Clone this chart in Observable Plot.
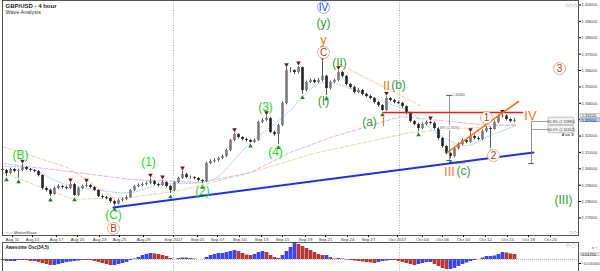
<!DOCTYPE html>
<html><head><meta charset="utf-8">
<script src="https://cdn.jsdelivr.net/npm/d3@7"></script>
<script src="https://cdn.jsdelivr.net/npm/@observablehq/plot@0.6"></script>
<style>
html,body{margin:0;padding:0;background:#fff;}
#wrap{position:relative;width:600px;height:271px;overflow:hidden;background:#fff;}
#main{position:absolute;left:0;top:0;}
#osc{position:absolute;left:0;top:242px;}
svg{display:block;}
</style></head><body><div id="wrap"><div id="main"></div><div id="osc"></div></div>
<script>
// ---------- DATA ----------
const firstOpen = 1.2996;
const closes = [
1.2990,1.2971,1.2996,1.2984,1.2990,1.3008,1.2996,1.2990,1.2984,1.2959,
1.2880,1.2868,1.2843,1.2880,1.2892,1.2886,1.2880,1.2904,1.2837,1.2880,
1.2892,1.2898,1.2886,1.2868,1.2831,1.2825,1.2819,1.2800,1.2785,1.2807,
1.2813,1.2825,1.2868,1.2892,1.2898,1.2904,1.2910,1.2922,1.2904,1.2898,
1.2916,1.2892,1.2868,1.2916,1.2941,1.2965,1.2947,1.2947,1.2941,1.2929,
1.2922,1.3032,1.3045,1.3051,1.3063,1.3075,1.3112,1.3173,1.3209,1.3191,
1.3179,1.3173,1.3161,1.3173,1.3283,1.3295,1.3307,1.3222,1.3209,1.3264,
1.3399,1.3600,1.3600,1.3588,1.3618,1.3478,1.3527,1.3539,1.3527,1.3539,
1.3565,1.3490,1.3527,1.3539,1.3588,1.3564,1.3515,1.3496,1.3466,1.3478,
1.3454,1.3441,1.3429,1.3405,1.3386,1.3356,1.3429,1.3417,1.3405,1.3399,
1.3380,1.3338,1.3289,1.3270,1.3246,1.3270,1.3283,1.3277,1.3246,1.3185,
1.3136,1.3093,1.3075,1.3124,1.3148,1.3173,1.3161,1.3197,1.3185,1.3179,
1.3228,1.3246,1.3240,1.3283,1.3319,1.3322,1.3301,1.3289,1.3295];
const highs = [
1.3014,1.2996,1.3004,1.3002,1.2998,1.3026,1.3015,1.3002,1.2996,1.2990,
1.2965,1.2890,1.2875,1.2890,1.2902,1.2900,1.2895,1.2912,1.2910,1.2888,
1.2900,1.2910,1.2905,1.2892,1.2872,1.2840,1.2832,1.2825,1.2808,1.2815,
1.2822,1.2835,1.2875,1.2900,1.2908,1.2914,1.2920,1.2941,1.2930,1.2912,
1.2929,1.2920,1.2898,1.2922,1.2950,1.2984,1.2972,1.2956,1.2952,1.2946,
1.2935,1.3040,1.3055,1.3062,1.3072,1.3085,1.3120,1.3180,1.3218,1.3215,
1.3198,1.3188,1.3180,1.3182,1.3290,1.3305,1.3322,1.3312,1.3230,1.3272,
1.3410,1.3615,1.3618,1.3605,1.3625,1.3622,1.3535,1.3550,1.3548,1.3552,
1.3655,1.3572,1.3535,1.3548,1.3598,1.3595,1.3570,1.3522,1.3505,1.3490,
1.3485,1.3462,1.3450,1.3435,1.3412,1.3392,1.3440,1.3435,1.3425,1.3412,
1.3405,1.3385,1.3345,1.3296,1.3278,1.3280,1.3292,1.3290,1.3285,1.3252,
1.3192,1.3142,1.3098,1.3132,1.3158,1.3182,1.3185,1.3218,1.3205,1.3195,
1.3238,1.3258,1.3255,1.3292,1.3330,1.3330,1.3330,1.3310,1.3305];
const lows = [
1.2965,1.2953,1.2965,1.2975,1.2941,1.2982,1.2988,1.2980,1.2975,1.2950,
1.2870,1.2858,1.2830,1.2838,1.2872,1.2875,1.2870,1.2875,1.2832,1.2830,
1.2872,1.2885,1.2878,1.2860,1.2825,1.2815,1.2810,1.2790,1.2772,1.2780,
1.2798,1.2805,1.2820,1.2860,1.2885,1.2890,1.2896,1.2902,1.2896,1.2888,
1.2892,1.2884,1.2849,1.2860,1.2910,1.2935,1.2940,1.2938,1.2932,1.2920,
1.2908,1.2915,1.3025,1.3035,1.3042,1.3055,1.3068,1.3105,1.3165,1.3182,
1.3170,1.3162,1.3160,1.3155,1.3168,1.3275,1.3288,1.3215,1.3198,1.3150,
1.3258,1.3390,1.3585,1.3575,1.3580,1.3455,1.3470,1.3520,1.3518,1.3520,
1.3530,1.3448,1.3482,1.3520,1.3532,1.3555,1.3505,1.3488,1.3458,1.3458,
1.3445,1.3432,1.3420,1.3395,1.3375,1.3350,1.3350,1.3408,1.3396,1.3390,
1.3370,1.3328,1.3280,1.3262,1.3228,1.3238,1.3262,1.3268,1.3238,1.3175,
1.3125,1.3085,1.3060,1.3068,1.3115,1.3140,1.3152,1.3155,1.3175,1.3170,
1.3172,1.3220,1.3125,1.3235,1.3275,1.3310,1.3292,1.3280,1.3282];
const aoValues = [
-0.0025,-0.005,-0.005,-0.005,-0.0025,-0.0025,-0.0025,-0.005,-0.005,-0.0075,
-0.010,-0.0125,-0.015,-0.015,-0.0125,-0.010,-0.0075,-0.00625,-0.005,-0.00375,
-0.0025,-0.0025,-0.0025,-0.005,-0.0075,-0.010,-0.0125,-0.015,-0.015,-0.0125,
-0.010,-0.0075,-0.0025,0.00125,0.005,0.010,0.0125,0.015,0.01375,0.0125,
0.010,0.0075,0.0025,0.0,0.0025,0.00375,0.00375,0.0025,0.00125,0.0,
0.0,0.005,0.010,0.0125,0.015,0.015,0.0175,0.020,0.0225,0.020,
0.015,0.01125,0.010,0.0125,0.0175,0.020,0.0175,0.010,0.005,0.0025,
0.010,0.020,0.030,0.040,0.0375,0.0325,0.0275,0.0225,0.0175,0.0125,
0.010,0.010,0.005,0.00125,0.0025,0.00125,-0.00125,-0.0025,-0.00375,-0.005,
-0.00625,-0.0075,-0.00875,-0.010,-0.0075,-0.005,-0.00375,-0.0025,-0.0025,-0.005,
-0.0075,-0.010,-0.0125,-0.015,-0.0125,-0.010,-0.0075,-0.0075,-0.0125,-0.0175,
-0.0225,-0.025,-0.025,-0.0225,-0.0175,-0.0125,-0.00875,-0.005,-0.0025,0.0,
0.00375,0.0075,0.0075,0.00875,0.0125,0.0175,0.01625,0.01375,0.0125];

const peakBars = [5,17,21,37,40,45,58,66,71,74,80,84,96,107,117,125];
const troughBars = [1,4,12,18,28,42,50,62,69,75,81,95,104,112,122];

const dateTickIdx = [2.5,7.5,13.5,18.75,24.25,29.25,35.25,42.75,48.75,53.75,59.25,64.75,70,75.75,80.75,86.25,91.5,98.75,105,110,115.25,120.75,126.25,131.5,137];
const dateTickLabels = ["Aug 11","Aug 15","Aug 17","Aug 20","Aug 23","Aug 25","Aug 29","Sep 2017","Sep 05","Sep 07","Sep 10","Sep 13","Sep 15","Sep 19","Sep 21","Sep 24","Sep 27","Oct 2017","Oct 04","Oct 06","Oct 10","Oct 12","Oct 15","Oct 18","Oct 20"];
const priceTicks = [1.27,1.28,1.29,1.30,1.31,1.32,1.33,1.34,1.35,1.36,1.37,1.38,1.39,1.40];
const separatorIdx = [42.75, 99.25];

// moving averages / helper lines (index, price)
const fastMaX = [0,7,14.5,24.5,32,39.5,49.5,53.25,61.25,72,75.75,80.25,87,94.5,102,109.5,115.75,122,128.25];
const fastMaY = [1.3014,1.3002,1.2916,1.2868,1.2855,1.2904,1.2916,1.2941,1.3142,1.3356,1.3460,1.3527,1.3490,1.3417,1.3344,1.3203,1.3142,1.3203,1.3264];
const midMaX = [0,14.5,32,49.5,62,72,82,92,99.5,109.5,119.5,128.25];
const midMaY = [1.3032,1.2990,1.2935,1.2916,1.2977,1.3100,1.3191,1.3264,1.3319,1.3295,1.3270,1.3264];
const slowMaX = [0,17.75,32,44.5,61.25,77.75,102,114.5,128.25];
const slowMaY = [1.2977,1.2813,1.2825,1.2868,1.2971,1.3093,1.3222,1.3246,1.3270];
const resistA_X = [0,16.25,27.75];
const resistA_Y = [1.3136,1.3008,1.2825];
const resistB_X = [83.75,104.5];
const resistB_Y = [1.3643,1.3386];

// drawn lines
const blueLineX = [27.75,132.75], blueLineY = [1.2764,1.3100];
const redLineX = [95.25,130], redLineY = [1.3344,1.3344];
const orangeLineX = [111.25,129], orangeLineY = [1.3100,1.3411];
const orangeTick = {x:95.25, y1:1.3314, y2:1.3258};

// measurement tools
const measureX = [111.75,132.25];
const measureTop = [1.3448,1.3289];
const measureBottom = [1.3051,1.3032];
const measureTexts = ["1.34480","397 (2.95%)","1.30510"];
const fibLevels = [1.3289,1.3240];
const fibLabels = ["61.8% (1.32890)","50.0% (1.32402)"];

// wave labels
const waveText = ["(B)","(C)","B","(1)","(2)","(3)","(4)","IV","(y)","y","C","(I)","(II)","II","(b)","(a)","III","(c)","1","2","IV","3","(III)"];
const waveX =    [4.5,27.75,27.75,36.5,50,65.75,68.25,80.25,80.25,80.25,80.25,80.25,84.25,96,99,91.75,111.75,115.25,121,122.75,132,139.25,140.25];
const waveY =    [1.3081,1.2715,1.2636,1.3039,1.2863,1.3374,1.3100,1.3985,1.3887,1.3789,1.3710,1.3411,1.3643,1.3509,1.3509,1.3283,1.2984,1.2984,1.3313,1.3081,1.3325,1.3612,1.2807];
const waveKind = ["lime","lime","brown","lime","lime","lime","lime","blue","dk","orange","brown","dk","dk","orange","dk","dk","orange","dk","brown","brown","orange","brown","dk"];

// ---------- BUILD ----------
const font = "'Liberation Sans', Arial, sans-serif";
const bars = closes.map((c,i)=>({i, o: i ? closes[i-1] : firstOpen, c, h: highs[i], l: lows[i]}));
const pts = (xs, ys) => xs.map((x,i)=>({x, y: ys[i]}));
const labelMap = new Map(dateTickIdx.map((d,i)=>[d, dateTickLabels[i]]));
const waves = waveText.map((t,i)=>({t, x: waveX[i], y: waveY[i], k: waveKind[i]}));
const colorOf = {lime:"#2bd42b", dk:"#3c9a3c", orange:"#f27a2c", brown:"#a8441c", blue:"#2a3af0"};
const circled = waves.filter(d=>d.k==="brown"||d.k==="blue");
const lastClose = closes[closes.length-1];

const main = Plot.plot({
  width: 600, height: 242,
  marginLeft: 2, marginRight: 22, marginTop: 0, marginBottom: 7,
  x: {domain: [0,144], axis: null},
  y: {domain: [1.25928, 1.40275], axis: null},
  style: {background:"white", fontFamily: font, overflow:"visible"},
  marks: [
    Plot.ruleX(separatorIdx, {stroke:"#9a9a9a", strokeDasharray:"1,1.5", strokeWidth:0.8}),
    Plot.line(pts(slowMaX, slowMaY), {x:"x", y:"y", stroke:"#ddd6a8", strokeDasharray:"4,2", strokeWidth:0.9}),
    Plot.line(pts(midMaX, midMaY), {x:"x", y:"y", stroke:"#dcaede", strokeDasharray:"4,2", strokeWidth:0.9}),
    Plot.line(pts(fastMaX, fastMaY), {x:"x", y:"y", stroke:"#a8c4ee", strokeDasharray:"1.5,1.5", strokeWidth:0.9, curve:"catmull-rom"}),
    Plot.line(pts(resistA_X, resistA_Y), {x:"x", y:"y", stroke:"#f6c49a", strokeDasharray:"4,2", strokeWidth:0.9}),
    Plot.line(pts(resistB_X, resistB_Y), {x:"x", y:"y", stroke:"#f6c49a", strokeDasharray:"4,2", strokeWidth:0.9}),
    // candles
    Plot.ruleX(bars, {x:"i", y1:"l", y2:"h", stroke:"#444", strokeWidth:0.9}),
    Plot.ruleX(bars, {x:"i", y1:"o", y2:"c", stroke: d => d.c >= d.o ? "#7a7a7a" : "#222", strokeWidth:2.6}),
    // fractal markers
    Plot.dot(peakBars, {x: d=>d, y: d=>highs[d], dy:-3.5, symbol:"triangle", r:1.7, fill:"#7a1414", rotate:180}),
    Plot.dot(troughBars, {x: d=>d, y: d=>lows[d], dy:3.5, symbol:"triangle", r:1.7, fill:"#2b7a2b"}),
    // drawn lines
    Plot.line(pts(blueLineX, blueLineY), {x:"x", y:"y", stroke:"#1f2fe6", strokeWidth:2}),
    Plot.line(pts(redLineX, redLineY), {x:"x", y:"y", stroke:"#ee1a1a", strokeWidth:1.6}),
    Plot.line(pts(orangeLineX, orangeLineY), {x:"x", y:"y", stroke:"#ff7422", strokeWidth:1.6}),
    Plot.ruleX([orangeTick], {x:"x", y1:"y1", y2:"y2", stroke:"#ff7422", strokeWidth:1.2}),
    // measurement tools
    Plot.ruleX(measureX.map((x,i)=>({x, t: measureTop[i], b: measureBottom[i]})), {x:"x", y1:"t", y2:"b", stroke:"#777", strokeWidth:0.8}),
    Plot.ruleY(measureX.map((x,i)=>({x, y: measureBottom[i]})), {x1: d=>d.x-0.7, x2: d=>d.x+0.7, y:"y", stroke:"#555", strokeWidth:1}),
    Plot.ruleY([{x: measureX[0], y: measureTop[0]}], {x1: d=>d.x-0.7, x2: d=>d.x+0.7, y:"y", stroke:"#555", strokeWidth:1}),
    Plot.text([measureTexts[0]], {x: measureX[0]+0.6, y: measureTop[0], text: d=>d, textAnchor:"start", fontSize:3.6, fill:"#555", dy:-1}),
    Plot.text([measureTexts[1]], {x: measureX[0], y: (measureTop[0]+measureBottom[0])/2, text: d=>d, fontSize:3.6, fill:"#555", stroke:"white", strokeWidth:2}),
    Plot.text([measureTexts[2]], {x: measureX[0]+0.6, y: measureBottom[0], text: d=>d, textAnchor:"start", fontSize:3.6, fill:"#555", dy:2}),
    Plot.ruleY(fibLevels, {x1: measureX[1], x2: 136.5, stroke:"#888", strokeWidth:0.8}),
    Plot.rect(fibLevels, {x1:136.5, x2:142.9, y1: d=>d-0.0023, y2: d=>d+0.0023, fill:"#f4f4f4", stroke:"#999", strokeWidth:0.6, rx:1.5}),
    Plot.text(fibLevels, {x:139.7, y: d=>d, text: (d,i)=>fibLabels[i], fontSize:3.7, fill:"#444"}),
    Plot.text(["4 vs 3"], {x:141.3, y:1.3209, text: d=>d, fontSize:4.2, fontWeight:"bold", fill:"#333"}),
    // wave labels
    Plot.dot(circled, {x:"x", y:"y", r:6, stroke: d=> d.k==="blue" ? "#8c96f5" : "#e0a684", fill:"white", strokeWidth:0.9}),
    Plot.text(waves, {x:"x", y:"y", text:"t", fill: d=>colorOf[d.k], fontSize: d=> (d.k==="brown"||d.k==="blue") ? 10 : (d.k==="orange" ? 13 : 12)}),
    // title & logos
    Plot.text(["GBP/USD - 4 hour"], {frameAnchor:"top-left", text:d=>d, dx:3, dy:3, fontSize:6, fontWeight:"bold", fill:"#222", textAnchor:"start", lineAnchor:"top"}),
    Plot.text(["Wave Analysis"], {frameAnchor:"top-left", text:d=>d, dx:3, dy:10, fontSize:5.5, fill:"#333", textAnchor:"start", lineAnchor:"top"}),
    Plot.text(["◦◦-◦◦ MotiveWave"], {frameAnchor:"bottom-left", text:d=>d, dx:3, dy:-2, fontSize:4.2, fill:"#444", textAnchor:"start", lineAnchor:"bottom"}),
    Plot.text(["◇◇◇"], {frameAnchor:"top-right", text:d=>d, dx:-2, dy:3, fontSize:5, fill:"#999", textAnchor:"end", lineAnchor:"top"}),
    Plot.text(["◇◇"], {frameAnchor:"bottom-right", text:d=>d, dx:-2, dy:-2, fontSize:5, fill:"#999", textAnchor:"end", lineAnchor:"bottom"}),
    // frame & axes
    Plot.frame({stroke:"#444", strokeWidth:0.9}),
    Plot.axisY({anchor:"right", ticks: priceTicks, tickFormat: d3.format(".5f"), tickSize:2, tickPadding:1, fontSize:4.3, fill:"#333"}),
    Plot.axisX({anchor:"bottom", ticks: dateTickIdx, tickFormat: d => labelMap.get(d), tickSize:2, tickPadding:0.5, fontSize:4.3, fill:"#333"}),
    // current price boxes on the axis
    Plot.rect([1.3322], {x1:144.5, x2:149.6, y1:d=>d-0.0011, y2:d=>d+0.0011, fill:"#eeeeee", stroke:"#999", strokeWidth:0.5}),
    Plot.text([1.3322], {x:144.8, y:d=>d, text: d3.format(".5f"), textAnchor:"start", fontSize:4, fill:"#333"}),
    Plot.rect([lastClose], {x1:144.5, x2:149.6, y1:d=>d-0.0011, y2:d=>d+0.0011, fill:"#b9cff7", stroke:"#6d8fd6", strokeWidth:0.5}),
    Plot.text([lastClose], {x:144.8, y:d=>d, text: d3.format(".5f"), textAnchor:"start", fontSize:4, fill:"#111"})
  ]
});
document.getElementById("main").appendChild(main);

const aoBars = aoValues.map((v,i)=>({i, v, up: i===0 ? true : v >= aoValues[i-1]}));
const lastAo = aoValues[aoValues.length-1];
const osc = Plot.plot({
  width: 600, height: 29,
  marginLeft: 2, marginRight: 22, marginTop: 0, marginBottom: 0,
  x: {domain:[0,144], axis: null},
  y: {domain:[-0.03, 0.0425], axis: null},
  style: {background:"white", fontFamily: font, overflow:"visible"},
  marks: [
    Plot.ruleX(separatorIdx, {stroke:"#9a9a9a", strokeDasharray:"1,1.5", strokeWidth:0.8}),
    Plot.ruleY([0], {stroke:"#999", strokeDasharray:"1,1", strokeWidth:0.7}),
    Plot.ruleX(aoBars, {x:"i", y1:0, y2:"v", stroke: d=> d.up ? "#3b45f2" : "#b23b36", strokeWidth:3.7}),
    Plot.text(["Awesome Osc(34,5)"], {frameAnchor:"top-left", text:d=>d, dx:3, dy:3, fontSize:4.6, fontWeight:"bold", fill:"#222", textAnchor:"start", lineAnchor:"top"}),
    Plot.text(["◇ ▢"], {frameAnchor:"top-right", text:d=>d, dx:-2, dy:1.5, fontSize:4.5, fill:"#999", textAnchor:"end", lineAnchor:"top"}),
    Plot.frame({stroke:"#444", strokeWidth:0.9}),
    Plot.axisY({anchor:"right", ticks:[-0.01], tickFormat: d3.format(".5f"), tickSize:2, tickPadding:1, fontSize:4.3, fill:"#333"}),
    Plot.rect([lastAo], {x1:144.5, x2:149.6, y1:d=>d-0.0028, y2:d=>d+0.0028, fill:"#f4f4f4", stroke:"#888", strokeWidth:0.5}),
    Plot.text([lastAo], {x:144.8, y:d=>d, text: d3.format(".5f"), textAnchor:"start", fontSize:4, fill:"#222"})
  ]
});
document.getElementById("osc").appendChild(osc);
</script>
</body></html>
